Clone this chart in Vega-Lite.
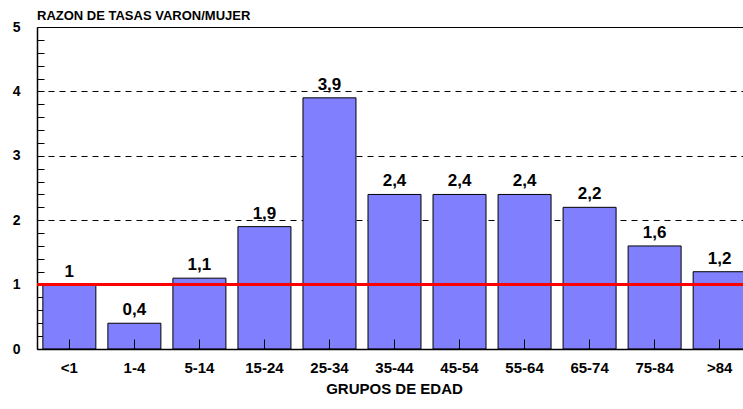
{
  "$schema": "https://vega.github.io/schema/vega-lite/v6.json",
  "autosize": {"type": "none"},
  "width": 706,
  "height": 322,
  "padding": {"left": 37, "top": 27, "right": 0, "bottom": 60},
  "background": "white",
  "title": {"text": "RAZON DE TASAS VARON/MUJER", "anchor": "start", "frame": "group", "font": "Liberation Sans", "fontSize": 13, "fontWeight": "bold", "color": "black", "offset": -3},
  "data": {"values": [
    {"grupo": "<1", "razon": 1.0, "label": "1"},
    {"grupo": "1-4", "razon": 0.4, "label": "0,4"},
    {"grupo": "5-14", "razon": 1.1, "label": "1,1"},
    {"grupo": "15-24", "razon": 1.9, "label": "1,9"},
    {"grupo": "25-34", "razon": 3.9, "label": "3,9"},
    {"grupo": "35-44", "razon": 2.4, "label": "2,4"},
    {"grupo": "45-54", "razon": 2.4, "label": "2,4"},
    {"grupo": "55-64", "razon": 2.4, "label": "2,4"},
    {"grupo": "65-74", "razon": 2.2, "label": "2,2"},
    {"grupo": "75-84", "razon": 1.6, "label": "1,6"},
    {"grupo": ">84", "razon": 1.2, "label": "1,2"}
  ]},
  "layer": [
    {
      "mark": {"type": "bar", "fill": "#8080FF", "stroke": "black", "strokeWidth": 1, "clip": true},
      "encoding": {
        "x": {"field": "grupo", "type": "nominal", "sort": null,
          "scale": {"range": [0, 715], "paddingInner": 0.185, "paddingOuter": 0.09},
          "axis": {"title": "GRUPOS DE EDAD", "labelAngle": 0, "labelFont": "Liberation Sans", "labelFontSize": 15, "labelFontWeight": "bold", "labelColor": "black",
            "titleFont": "Liberation Sans", "titleFontSize": 15, "titleFontWeight": "bold", "titleColor": "black",
            "tickSize": -10, "tickColor": "black", "domainColor": "black", "domainWidth": 1.5, "labelPadding": 21, "titlePadding": 6, "titleX": 357, "zindex": 1}},
        "y": {"field": "razon", "type": "quantitative",
          "scale": {"domain": [0, 5]},
          "axis": {"title": null, "tickCount": 40,
            "values": [0,0.2,0.4,0.6,0.8,1,1.2,1.4,1.6,1.8,2,2.2,2.4,2.6,2.8,3,3.2,3.4,3.6,3.8,4,4.2,4.4,4.6,4.8,5],
            "labelExpr": "abs(datum.value - round(datum.value)) < 0.01 ? format(datum.value, 'd') : ''",
            "labelOverlap": false, "labelBound": false,
            "labelFont": "Liberation Sans", "labelFontSize": 14, "labelFontWeight": "bold", "labelColor": "black",
            "tickSize": -7, "tickColor": "black", "domainColor": "black", "domainWidth": 1.5, "labelPadding": 24,
            "grid": true, "gridColor": "black", "gridWidth": 1,
            "gridOpacity": {"condition": {"test": "abs(datum.value - round(datum.value)) < 0.01", "value": 1}, "value": 0},
            "gridDash": {"condition": {"test": "datum.value == 5", "value": []}, "value": [6, 5]}, "zindex": 0}}
      }
    },
    {
      "mark": {"type": "text", "font": "Liberation Sans", "fontSize": 17, "fontWeight": "bold", "color": "black", "baseline": "alphabetic", "dy": -8},
      "encoding": {
        "x": {"field": "grupo", "type": "nominal", "sort": null},
        "y": {"field": "razon", "type": "quantitative"},
        "text": {"field": "label"}
      }
    },
    {
      "mark": {"type": "rule", "color": "#FF0000", "strokeWidth": 2},
      "encoding": {
        "y": {"datum": 1.0, "type": "quantitative"}
      }
    }
  ],
  "config": {"view": {"stroke": null}}
}
